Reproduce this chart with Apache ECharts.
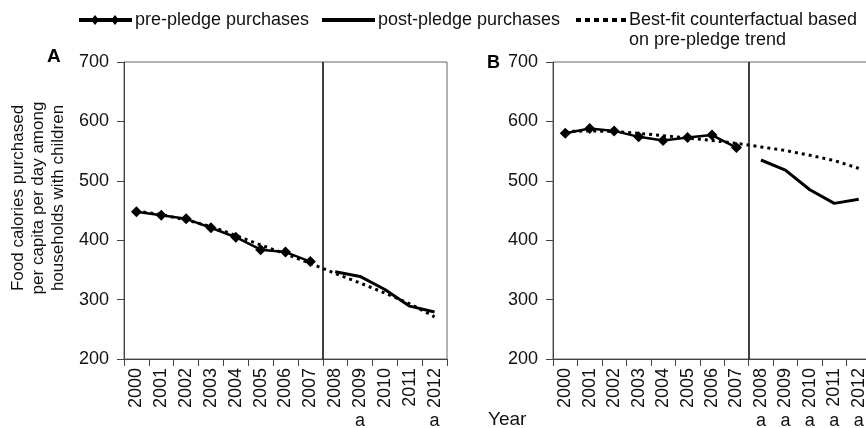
<!DOCTYPE html>
<html>
<head>
<meta charset="utf-8">
<script src="https://cdn.jsdelivr.net/npm/echarts@6/dist/echarts.min.js"></script>
<style>html,body{margin:0;padding:0;background:#fff}#c{width:866px;height:428px}</style>
</head>
<body>
<div id="c"></div>
<script>
var years = ['2000','2001','2002','2003','2004','2005','2006','2007','2008','2009','2010','2011','2012'];
var yTicks = {min: 200, max: 700, step: 100};
// Panel A
var preA  = [448, 442, 436, 421, 405, 384, 380, 364, null, null, null, null, null];
var postA = [null, null, null, null, null, null, null, null, 347, 339, 317, 289, 279];
var cfA   = [449, 443, 434, 423, 408, 392, 377, 361, 344, 328, 311, 293, 271];
var sigA  = ['', '', '', '', '', '', '', '', '', 'a', '', '', 'a'];
// Panel B
var preB  = [580, 588, 584, 574, 568, 573, 577, 556, null, null, null, null, null];
var postB = [null, null, null, null, null, null, null, null, 535, 518, 485, 462, 469];
var cfB   = [583, 584, 583, 580, 576, 572, 568, 563, 557, 551, 543, 534, 521];
var sigB  = ['', '', '', '', '', '', '', '', 'a', 'a', 'a', 'a', 'a'];
var pledgeYear = '2008';

var FONT = '"Liberation Sans", Arial, sans-serif';
var TXT = '#111';
var AX = '#444';
var pledgeIdx = years.indexOf(pledgeYear);

function xMain(gi) {
  return {
    type: 'category', gridIndex: gi, data: years, boundaryGap: true,
    axisLine: {show: true, lineStyle: {color: AX, width: 1}},
    axisTick: {show: true, interval: 0, length: 7, lineStyle: {color: AX}},
    axisLabel: {interval: 0, rotate: 90, margin: 9, fontSize: 18, fontFamily: FONT, color: TXT},
    splitLine: {show: false}
  };
}
function xSig(gi, sig) {
  return {
    type: 'category', gridIndex: gi, data: years, position: 'bottom', boundaryGap: true,
    axisLine: {show: false}, axisTick: {show: false}, splitLine: {show: false},
    axisLabel: {interval: 0, margin: 53, fontSize: 18, fontFamily: FONT, color: TXT,
      formatter: function (v, i) { return sig[i]; }}
  };
}
// hidden band-position axis: band boundaries at integers 0..N
function xBand(gi) {
  return {type: 'value', gridIndex: gi, min: 0, max: years.length, show: false,
    axisLine: {show: false}, axisTick: {show: false}, axisLabel: {show: false}, splitLine: {show: false}};
}
function yAx(gi) {
  return {
    type: 'value', gridIndex: gi, min: yTicks.min, max: yTicks.max, interval: yTicks.step,
    axisLine: {show: true, lineStyle: {color: AX}},
    axisTick: {show: true, length: 7, lineStyle: {color: AX}},
    axisLabel: {margin: 15, fontSize: 18, fontFamily: FONT, color: TXT},
    splitLine: {show: false}
  };
}
function series(gi, pre, post, cf) {
  var xi = gi * 3;
  return [
    {name: 'pre-pledge purchases', type: 'line', xAxisIndex: xi, yAxisIndex: gi, data: pre,
     symbol: 'diamond', symbolSize: 11, showSymbol: true, itemStyle: {color: '#000'},
     lineStyle: {color: '#000', width: 2.5}, z: 3, silent: true},
    {name: 'post-pledge purchases', type: 'line', xAxisIndex: xi, yAxisIndex: gi, data: post,
     symbol: 'none', itemStyle: {color: '#000'}, lineStyle: {color: '#000', width: 3}, z: 3, silent: true},
    {name: 'Best-fit counterfactual based on pre-pledge trend', type: 'line', xAxisIndex: xi, yAxisIndex: gi, data: cf,
     symbol: 'none', itemStyle: {color: '#000'}, lineStyle: {color: '#000', width: 3, type: [3, 4], cap: 'butt'}, z: 2, silent: true},
    {name: 'pledge', type: 'line', xAxisIndex: xi + 2, yAxisIndex: gi, data: [], silent: true,
     markLine: {silent: true, symbol: ['none', 'none'], label: {show: false},
       lineStyle: {color: '#000', width: 1.5, type: 'solid'},
       data: [{xAxis: pledgeIdx}]}}
  ];
}

var iconPre  = 'path://M0,3 L53,3 L53,7 L0,7 Z M16,0 L20,5 L16,10 L12,5 Z M36,0 L40,5 L36,10 L32,5 Z';
var iconPost = 'path://M0,3 L53,3 L53,7 L0,7 Z M0,0 L0.01,0 Z M0,10 L0.01,10 Z';
var iconCf   = 'path://M0,3 L5,3 L5,7 L0,7 Z M9,3 L14,3 L14,7 L9,7 Z M18,3 L23,3 L23,7 L18,7 Z M27,3 L32,3 L32,7 L27,7 Z M36,3 L41,3 L41,7 L36,7 Z M45,3 L50,3 L50,7 L45,7 Z M0,0 L0.01,0 Z M0,10 L0.01,10 Z';

function legend(left, name, icon, w, fmt) {
  return {
    left: left, top: 11, itemWidth: w, itemHeight: 10, itemGap: 0, padding: 0, selectedMode: false,
    data: [{name: name, icon: icon}],
    textStyle: {fontSize: 18, fontFamily: FONT, color: TXT, padding: [0, 0, 0, -2]},
    formatter: fmt || function (n) { return n; }
  };
}

var option = {
  backgroundColor: '#fff',
  animation: false,
  legend: [
    legend(79, 'pre-pledge purchases', iconPre, 53),
    legend(322, 'post-pledge purchases', iconPost, 53),
    legend(576, 'Best-fit counterfactual based on pre-pledge trend', iconCf, 50, function () { return 'Best-fit counterfactual based'; })
  ],
  title: [
    {text: 'A', left: 47, top: 47, padding: 0, textStyle: {fontSize: 19, fontWeight: 'bold', fontFamily: FONT, color: '#000'}},
    {text: 'B', left: 487, top: 54, padding: 0, textStyle: {fontSize: 18, fontWeight: 'bold', fontFamily: FONT, color: '#000'}}
  ],
  grid: [
    {left: 124, top: 62, width: 323, height: 297, show: true, borderColor: '#666', borderWidth: 1,
     backgroundColor: 'transparent', outerBoundsMode: 'none', containLabel: false},
    {left: 553, top: 62, width: 318, height: 297, show: true, borderColor: '#666', borderWidth: 1,
     backgroundColor: 'transparent', outerBoundsMode: 'none', containLabel: false}
  ],
  xAxis: [xMain(0), xSig(0, sigA), xBand(0), xMain(1), xSig(1, sigB), xBand(1)],
  yAxis: [yAx(0), yAx(1)],
  series: series(0, preA, postA, cfA).concat(series(1, preB, postB, cfB)),
  graphic: [
    {type: 'text', left: 629, top: 31, silent: true,
     style: {text: 'on pre-pledge trend', fontSize: 18, fontFamily: FONT, fill: TXT}},
    {type: 'text', x: 38, y: 198, rotation: Math.PI / 2, silent: true,
     style: {text: 'Food calories purchased\nper capita per day among\nhouseholds with children',
       fontSize: 17, lineHeight: 20, fontFamily: FONT, fill: TXT, align: 'center', verticalAlign: 'middle'}},
    {type: 'text', left: 488, top: 410, silent: true,
     style: {text: 'Year', fontSize: 19, fontFamily: FONT, fill: TXT}}
  ]
};
var chart = echarts.init(document.getElementById('c'), null, {renderer: 'canvas'});
chart.setOption(option);
</script>
</body>
</html>
